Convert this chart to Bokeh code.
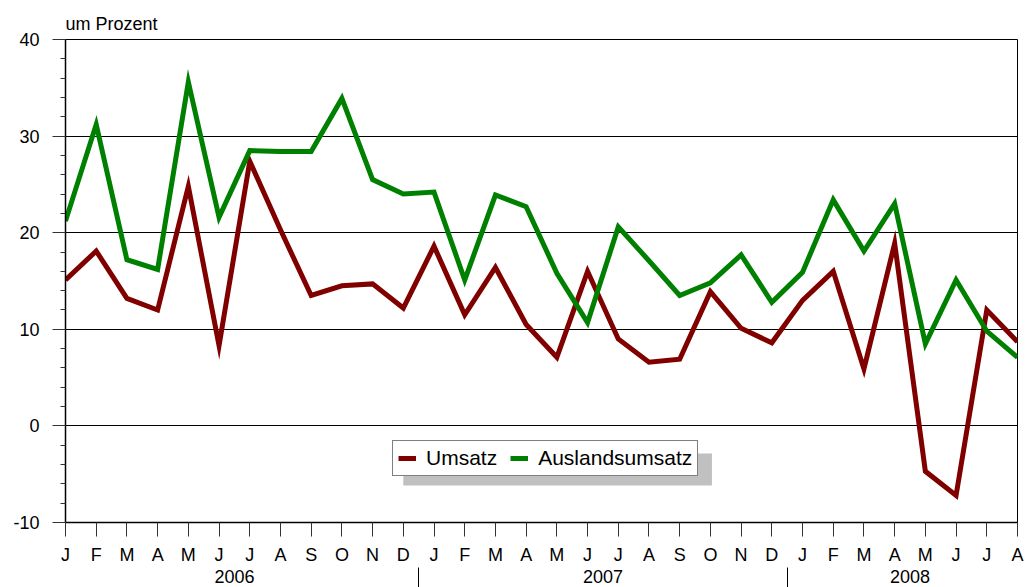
from bokeh.plotting import figure
from bokeh.models import (Range1d, FixedTicker, LinearAxis, Legend, LegendItem,
                          BoxAnnotation)
from bokeh.embed import file_html
from bokeh.resources import INLINE

# ---- data ----
month_labels = ["J", "F", "M", "A", "M", "J", "J", "A", "S", "O", "N", "D",
                "J", "F", "M", "A", "M", "J", "J", "A", "S", "O", "N", "D",
                "J", "F", "M", "A", "M", "J", "J", "A"]
years = ["2006", "2007", "2008"]
year_centers = [5.5, 17.5, 27.5]
year_separators = [11.5, 23.5]
y_ticks = [-10, 0, 10, 20, 30, 40]
y_tick_labels = ["-10", "0", "10", "20", "30", "40"]

umsatz = [15.1, 18.1, 13.2, 12.0, 24.8, 8.3, 27.4, 20.3, 13.5, 14.5, 14.7, 12.2,
          18.6, 11.5, 16.4, 10.5, 7.1, 16.0, 9.0, 6.6, 6.9, 13.9, 10.1, 8.6,
          13.0, 16.0, 5.9, 18.9, -4.7, -7.2, 12.0, 8.7]
ausland = [21.2, 31.2, 17.2, 16.2, 35.6, 21.6, 28.5, 28.4, 28.4, 33.9, 25.5, 24.0,
           24.2, 15.1, 23.9, 22.7, 15.8, 10.7, 20.6, 17.1, 13.5, 14.8, 17.7, 12.8,
           15.9, 23.4, 18.1, 23.0, 8.5, 15.1, 9.8, 7.1]
x = list(range(len(month_labels)))

FONT = "Liberation Sans"
RED = "#800000"
GREEN = "#008000"

p = figure(width=1025, height=587, output_backend="svg", toolbar_location=None,
           x_range=Range1d(0, len(x) - 1), y_range=Range1d(-10, 40),
           x_axis_type=None, min_border_left=65, min_border_right=8,
           min_border_bottom=65, min_border_top=39)
p.background_fill_color = "white"
p.border_fill_color = "white"
p.outline_line_color = "black"
p.outline_line_width = 1

# title
p.title.text = "um Prozent"
p.title.text_font = FONT
p.title.text_font_size = "18px"
p.title.text_font_style = "normal"
p.title.text_color = "black"
p.title.align = "left"
p.title.standoff = 12

# y axis
yax = p.yaxis[0]
yax.ticker = FixedTicker(ticks=y_ticks, minor_ticks=list(range(-10, 41, 2)))
yax.major_label_overrides = {t: l for t, l in zip(y_ticks, y_tick_labels)}
yax.major_tick_out = 13
yax.major_tick_in = 0
yax.minor_tick_out = 5
yax.minor_tick_in = 0
yax.major_tick_line_color = "#333333"
yax.minor_tick_line_color = "#333333"
yax.axis_line_color = "black"
yax.axis_line_width = 1.5
yax.major_label_text_font = FONT
yax.major_label_text_font_size = "18px"
yax.major_label_text_color = "black"
yax.major_label_standoff = 13

p.ygrid.grid_line_color = "black"
p.ygrid.grid_line_width = 1
p.xgrid.grid_line_color = None

# month axis
max_ = LinearAxis(ticker=FixedTicker(ticks=x, minor_ticks=[]),
                  major_label_overrides={i: m for i, m in zip(x, month_labels)})
max_.major_tick_out = 14
max_.major_tick_in = 0
max_.major_tick_line_color = "#333333"
max_.axis_line_color = "black"
max_.axis_line_width = 1.5
max_.major_label_text_font = FONT
max_.major_label_text_font_size = "18px"
max_.major_label_text_color = "black"
max_.major_label_standoff = 8
p.add_layout(max_, "below")

# year axis
yrax = LinearAxis(ticker=FixedTicker(ticks=year_centers, minor_ticks=year_separators),
                  major_label_overrides={c: y for c, y in zip(year_centers, years)})
yrax.axis_line_color = None
yrax.major_tick_line_color = None
yrax.major_tick_out = 0
yrax.major_tick_in = 0
yrax.minor_tick_out = 22
yrax.minor_tick_in = 0
yrax.minor_tick_line_color = "black"
yrax.major_label_text_font = FONT
yrax.major_label_text_font_size = "18px"
yrax.major_label_text_color = "black"
yrax.major_label_standoff = -20
p.add_layout(yrax, "below")

# legend shadow
p.add_layout(BoxAnnotation(left=11.0, right=21.05, top=-2.86, bottom=-6.17,
                           fill_color="#c0c0c0", fill_alpha=1, line_color=None,
                           level="underlay"))

r1 = p.line(x, umsatz, line_color=RED, line_width=5, line_join="miter")
r2 = p.line(x, ausland, line_color=GREEN, line_width=5, line_join="miter")

legend = Legend(items=[LegendItem(label="Umsatz", renderers=[r1]),
                       LegendItem(label="Auslandsumsatz", renderers=[r2])],
                orientation="horizontal", location=(327, 46))
legend.label_text_font = FONT
legend.label_text_font_size = "21px"
legend.label_text_color = "black"
legend.glyph_width = 18
legend.glyph_height = 20
legend.label_standoff = 10
legend.spacing = 13
legend.padding = 5
legend.margin = 0
legend.border_line_color = "black"
legend.border_line_width = 1
legend.background_fill_color = "white"
legend.background_fill_alpha = 1
p.add_layout(legend, "center")

open("out.html", "w").write(file_html(p, INLINE))
